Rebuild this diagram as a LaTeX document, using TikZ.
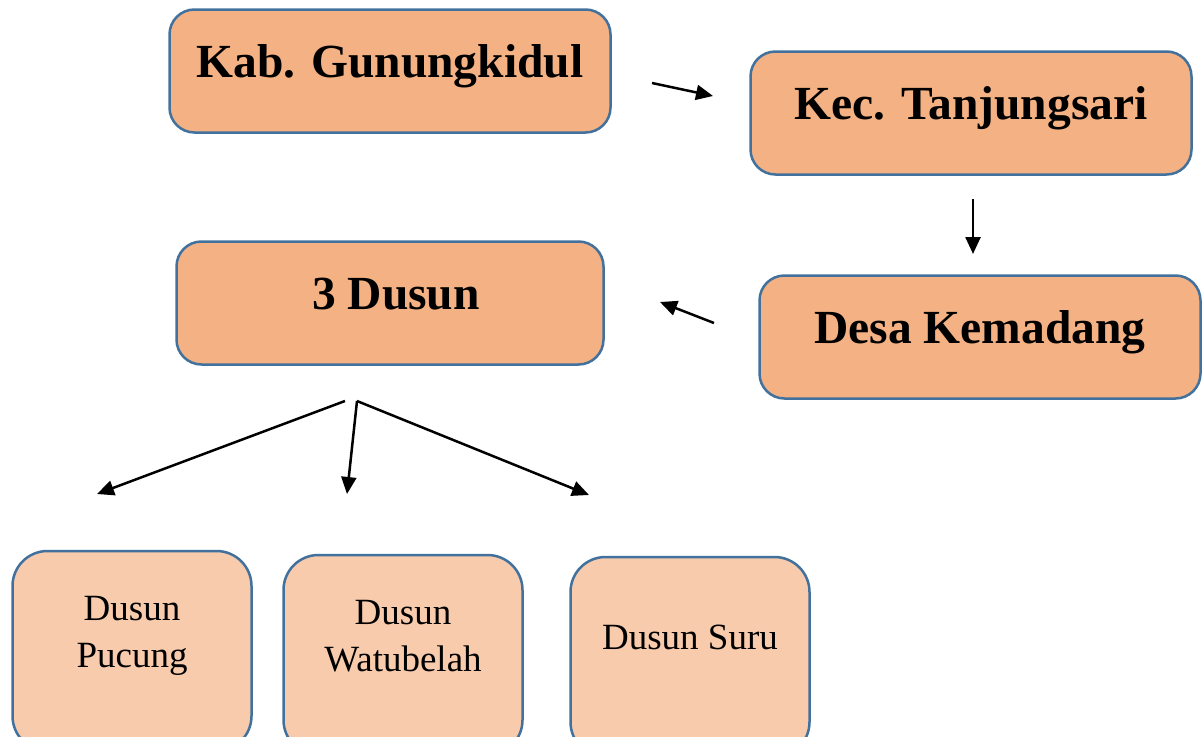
\documentclass[tikz,border=0pt]{standalone}
\usepackage{fontspec}
\setmainfont{Liberation Serif}
\usetikzlibrary{arrows.meta}

\definecolor{boxline}{HTML}{41719C}
\definecolor{bigfill}{HTML}{F4B183}
\definecolor{smallfill}{HTML}{F8CBAD}

\begin{document}
\begin{tikzpicture} [x=1pt, y=-1pt,
    bigbox/.style={draw=boxline, fill=bigfill, line width=2.5pt, rounded corners=25pt,
        minimum width=441pt, minimum height=123pt, inner sep=0pt,
        font=\fontsize{47.5}{58}\selectfont\bfseries, text height=30pt, text depth=18pt},
    smallbox/.style={draw=boxline, fill=smallfill, line width=2.5pt, rounded corners=35pt,
        minimum width=239pt, minimum height=200pt, inner sep=0pt, align=center,
        font=\fontsize{37}{47}\selectfont},
    arr/.style={line width=2.5pt, -{Triangle[length=17pt,width=15pt]}}]
            \useasboundingbox (0,0) rectangle (1204,736);
            \clip (0,0) rectangle (1204,736);

            \node[bigbox] (kab) at (390, 71)      {Kab. Gunungkidul};
            \node[bigbox] (kec) at (971, 113)     {Kec. Tanjungsari};
            \node[bigbox, minimum width=427pt] (dusun) at (390, 303) {\hspace{12pt}3 Dusun};
            \node[bigbox] (desa) at (980, 337)    {Desa Kemadang};

            \node[smallbox, text height=70pt, text depth=38pt] (pucung) at (132, 651)    {Dusun\\Pucung};
            \node[smallbox, text height=70pt, text depth=38pt] (watubelah) at (403, 655) {Dusun\\Watubelah};
            \node[smallbox, text height=30pt, text depth=46pt] (suru) at (690, 657)      {Dusun Suru};

            % free arrows between the boxes
            \coordinate (a1) at (652, 83);   \coordinate (b1) at (713, 96);
            \coordinate (a2) at (973, 199);  \coordinate (b2) at (973, 254);
            \coordinate (a3) at (714, 323);  \coordinate (b3) at (660, 302);
            \coordinate (l) at (345, 401);   \coordinate (r) at (357, 401);
            \coordinate (c1) at (97, 494);   \coordinate (c2) at (347, 494);
            \coordinate (c3) at (589, 495);

            \draw[arr] (a1) -- (b1);
            \draw[arr] (a2) -- (b2);
            \draw[arr] (a3) -- (b3);
            \draw[arr] (l) -- (c1);
            \draw[arr] (r) -- (c2);
            \draw[arr] (r) -- (c3);
        \end{tikzpicture}
\end{document}
